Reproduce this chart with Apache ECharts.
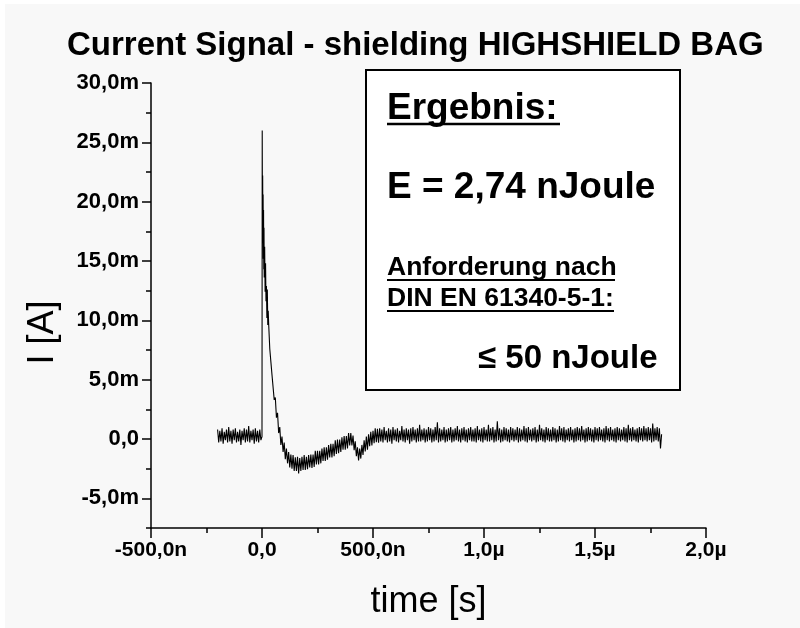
<!DOCTYPE html>
<html>
<head>
<meta charset="utf-8">
<script src="https://cdn.jsdelivr.net/npm/echarts@6/dist/echarts.min.js"></script>
<style>
html,body{margin:0;padding:0;background:#f8f8f8;}
#chart{width:800px;height:628px;}
</style>
</head>
<body>
<div id="chart"></div>
<script>
// ---- data (time in ns, current in mA) ----
const preStart = -200, preStep = 5;
const preCurrent = [0.8, -0.3, 0.7, -0.2, 0.9, -0.4, 0.6, -0.1, 0.8, -0.3, 1.0, -0.2, 0.7, -0.4, 0.8, -0.1, 0.9, -0.3, 0.6, -0.2,
  0.8, -0.5, 0.7, -0.1, 0.9, -0.3, 0.8, -0.2, 1.1, -0.3, 0.7, -0.1, 0.8, -0.4, 0.9, -0.2, 0.7, -0.3, 0.8, -0.1];

const spikeTime = [0, 1, 2, 3, 4, 5, 6, 7, 8, 9, 10, 12, 14, 16, 18, 20, 22, 24, 26, 28];
const spikeCurrent = [0.2, 26.0, 17.8, 22.2, 16.5, 20.6, 15.2, 19.3, 14.3, 17.8, 13.6, 16.2, 12.4, 14.8, 11.6, 12.9, 10.2, 12.6, 9.6, 10.8];

const decayStart = 30, decayStep = 5;
const decayCurrent = [
  9.7, 7.6, 7.6, 5.4, 5.4, 3.3, 3.5, 1.8, 2.2, 0.5, 1.0, -0.5, 0.2, -1.1, -0.3, -1.7, -0.8, -2.05, -1.1, -2.4,
  -1.3, -2.5, -1.35, -2.7, -1.55, -2.7, -1.5, -2.9, -1.6, -2.7, -1.5, -2.6, -1.35, -2.6, -1.5, -2.55, -1.35, -2.4, -1.3, -2.45,
  -1.3, -2.35, -1.0, -2.15, -1.0, -2.15, -1.0, -2.05, -0.8, -1.85, -0.7, -1.85, -0.7, -1.75, -0.5, -1.55, -0.4, -1.55, -0.4, -1.45,
  -0.1, -1.25, -0.05, -1.2, -0.05, -1.1, 0.15, -0.9, 0.25, -0.9, 0.25, -0.8, 0.5, -0.55, 0.5, -0.55, 0.3, -0.95, -0.2, -1.45,
  -0.7, -1.8, -0.8, -1.65, -0.5, -1.35, -0.1, -1.05, 0.2, -0.9, 0.4, -0.6, 0.6, -0.55, 0.7, -0.35, 0.9, -0.28, 0.85, -0.32];

const tailStart = 530, tailStep = 5;
const tailCurrent = [
  0.9, -0.2, 0.8, -0.3, 1.0, -0.1, 0.7, -0.3, 0.9, -0.2, 0.8, -0.4, 1.0, -0.1, 0.8,
  -0.2, 0.9, -0.3, 0.7, -0.1, 1.1, -0.2, 0.8, -0.3, 0.9, -0.1, 0.8, -0.4, 0.9, -0.2,
  1.0, -0.1, 0.8, -0.3, 0.9, -0.2, 1.2, -0.2, 0.8, -0.1, 0.9, -0.3, 0.8, -0.2, 1.0,
  -0.1, 0.9, -0.3, 0.8, -0.2, 1.0, -0.1, 1.4, -0.3, 0.9, -0.2, 0.8, -0.1, 1.0, -0.3,
  0.8, -0.2, 0.9, -0.1, 1.0, -0.3, 0.8, -0.2, 0.9, -0.1, 1.1, -0.2, 0.8, -0.3, 0.9,
  -0.1, 1.0, -0.2, 0.8, -0.3, 0.9, -0.1, 1.0, -0.2, 0.8, -0.2, 0.9, -0.3, 1.1, -0.1,
  0.8, -0.2, 0.9, -0.3, 1.0, -0.1, 0.8, -0.2, 1.2, -0.2, 0.9, -0.1, 1.0, -0.3, 0.8,
  -0.2, 1.5, -0.1, 0.9, -0.3, 0.8, -0.2, 1.0, -0.1, 0.9, -0.2, 0.8, -0.3, 1.0, -0.1,
  0.9, -0.2, 0.8, -0.1, 1.0, -0.3, 0.9, -0.2, 0.8, -0.1, 1.1, -0.2, 0.9, -0.3, 1.0,
  -0.1, 0.8, -0.2, 0.9, -0.1, 1.0, -0.3, 0.8, -0.2, 1.2, -0.1, 0.9, -0.2, 0.8, -0.3,
  1.0, -0.1, 0.9, -0.2, 0.8, -0.2, 1.0, -0.1, 0.9, -0.3, 0.8, -0.2, 1.1, -0.1, 0.9,
  -0.2, 1.0, -0.3, 0.8, -0.1, 0.9, -0.2, 1.0, -0.1, 0.8, -0.3, 0.9, -0.2, 1.0, -0.1,
  0.9, -0.2, 1.1, -0.1, 0.8, -0.3, 0.9, -0.2, 1.0, -0.1, 0.9, -0.2, 0.8, -0.3, 1.0,
  -0.1, 0.9, -0.2, 1.0, -0.1, 0.8, -0.2, 0.9, -0.3, 1.1, -0.1, 0.9, -0.2, 1.0, -0.1,
  0.8, -0.2, 0.9, -0.3, 1.0, -0.1, 0.9, -0.2, 0.8, -0.1, 1.0, -0.2, 0.9, -0.3, 1.2,
  -0.1, 0.9, -0.2, 1.0, -0.1, 0.8, -0.2, 0.9, -0.3, 1.0, -0.1, 0.9, -0.2, 1.1, -0.1,
  0.9, -0.2, 1.0, -0.1, 0.9, -0.3, 1.3, -0.2, 0.9, -0.1, 1.0, -0.2, 0.9, -0.8, 0.4];

// ---- tick labels ----
const xTickValues = [-500, 0, 500, 1000, 1500, 2000];
const xTickLabels = ['-500,0n', '0,0', '500,0n', '1,0\u00b5', '1,5\u00b5', '2,0\u00b5'];
const yTickValues = [-5, 0, 5, 10, 15, 20, 25, 30];
const yTickLabels = ['-5,0m', '0,0', '5,0m', '10,0m', '15,0m', '20,0m', '25,0m', '30,0m'];
const yMinorTickValues = [-7.5, -2.5, 2.5, 7.5, 12.5, 17.5, 22.5, 27.5];

// ---- texts ----
const titleText = 'Current Signal - shielding HIGHSHIELD BAG';
const xName = 'time [s]';
const yName = 'I [A]';
const boxLines = ['Ergebnis:', 'E = 2,74 nJoule', 'Anforderung nach', 'DIN EN 61340-5-1:', '\u2264 50 nJoule'];

// ---- build series data ----
const traceData = [];
preCurrent.forEach((v, i) => traceData.push([preStart + i * preStep, v]));
spikeCurrent.forEach((v, i) => traceData.push([spikeTime[i], v]));
decayCurrent.forEach((v, i) => traceData.push([decayStart + i * decayStep, v]));
tailCurrent.forEach((v, i) => traceData.push([tailStart + i * tailStep, v]));

const FONT = '"Liberation Sans", Arial, sans-serif';
const chart = echarts.init(document.getElementById('chart'), null, {renderer: 'canvas'});

const option = {
  backgroundColor: '#f8f8f8',
  animation: false,
  title: {
    text: titleText,
    left: 67, top: 29, padding: 0,
    textStyle: {fontFamily: FONT, fontSize: 33, fontWeight: 'bold', color: '#000'}
  },
  grid: {left: 151, right: 94, top: 83, bottom: 100},
  xAxis: {
    type: 'value', min: -500, max: 2000, interval: 500,
    axisLine: {show: true, onZero: false, lineStyle: {color: '#000', width: 1.5}},
    axisTick: {show: true, length: 10, lineStyle: {color: '#000', width: 1.5}},
    minorTick: {show: true, splitNumber: 2, length: 5, lineStyle: {color: '#000', width: 1.5}},
    splitLine: {show: false}, minorSplitLine: {show: false},
    axisLabel: {
      color: '#000', fontFamily: FONT, fontWeight: 'bold', fontSize: 21, margin: 12,
      formatter: v => { const k = xTickValues.indexOf(v); return k >= 0 ? xTickLabels[k] : ''; }
    },
    name: xName, nameLocation: 'middle', nameGap: 56,
    nameTextStyle: {fontFamily: FONT, fontSize: 36, color: '#000'}
  },
  yAxis: [{
    type: 'value', min: -7.5, max: 30,
    axisLine: {show: true, onZero: false, lineStyle: {color: '#000', width: 1.5}},
    axisTick: {show: true, length: 9, customValues: yTickValues, lineStyle: {color: '#000', width: 1.5}},
    axisLabel: {
      customValues: yTickValues,
      color: '#000', fontFamily: FONT, fontWeight: 'bold', fontSize: 22, margin: 12,
      formatter: v => { const k = yTickValues.findIndex(t => Math.abs(t - v) < 1e-6); return k >= 0 ? yTickLabels[k] : ''; }
    },
    splitLine: {show: false},
    name: yName, nameLocation: 'middle', nameGap: 90, nameRotate: 90,
    nameTextStyle: {fontFamily: FONT, fontSize: 36, color: '#000', padding: [0, 54, 0, 0]}
  }, {
    type: 'value', min: -7.5, max: 30, position: 'left', offset: 0,
    axisLine: {show: false, onZero: false},
    axisTick: {show: true, length: 5, customValues: yMinorTickValues, lineStyle: {color: '#000', width: 1.5}},
    axisLabel: {show: false},
    splitLine: {show: false}
  }],
  series: [{
    type: 'line', data: traceData, xAxisIndex: 0, yAxisIndex: 0,
    showSymbol: false, symbol: 'none', sampling: null, progressive: 0,
    lineStyle: {color: '#000', width: 1.1}
  }],
  graphic: [
    {type: 'rect', shape: {x: 0, y: 0, width: 800, height: 4}, style: {fill: '#fff'}, silent: true},
    {type: 'rect', shape: {x: 0, y: 0, width: 5, height: 628}, style: {fill: '#fff'}, silent: true},
    {type: 'rect', shape: {x: 366, y: 70, width: 314, height: 320}, style: {fill: '#fff', stroke: '#000', lineWidth: 2}, z: 10},
    {type: 'text', x: 387, y: 109, z: 11, style: {text: boxLines[0], font: 'bold 37px ' + FONT, fill: '#000', verticalAlign: 'middle'}},
    {type: 'line', shape: {x1: 387, y1: 124, x2: 560, y2: 124}, style: {stroke: '#000', lineWidth: 2.5}, z: 11},
    {type: 'text', x: 387, y: 188, z: 11, style: {text: boxLines[1], font: 'bold 37px ' + FONT, fill: '#000', verticalAlign: 'middle'}},
    {type: 'text', x: 387, y: 268, z: 11, style: {text: boxLines[2], font: 'bold 26.5px ' + FONT, fill: '#000', verticalAlign: 'middle'}},
    {type: 'line', shape: {x1: 387, y1: 280, x2: 615, y2: 280}, style: {stroke: '#000', lineWidth: 2}, z: 11},
    {type: 'text', x: 387, y: 299, z: 11, style: {text: boxLines[3], font: 'bold 26.5px ' + FONT, fill: '#000', verticalAlign: 'middle'}},
    {type: 'line', shape: {x1: 387, y1: 311, x2: 614, y2: 311}, style: {stroke: '#000', lineWidth: 2}, z: 11},
    {type: 'text', x: 478, y: 359, z: 11, style: {text: boxLines[4], font: 'bold 33px ' + FONT, fill: '#000', verticalAlign: 'middle'}}
  ]
};
chart.setOption(option);
</script>
</body>
</html>
